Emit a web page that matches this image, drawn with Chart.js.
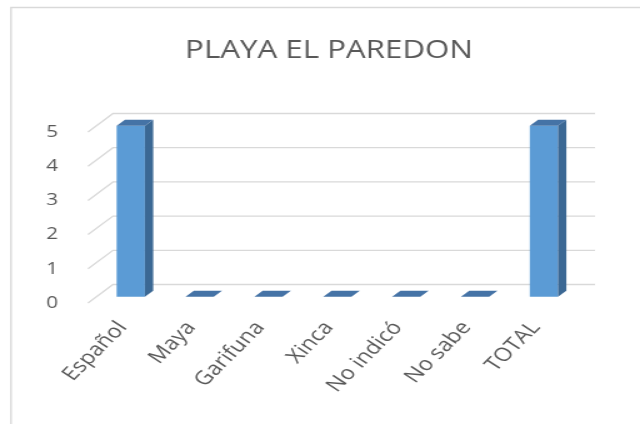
<!DOCTYPE html>
<html>
<head>
<meta charset="utf-8">
<script src="https://cdn.jsdelivr.net/npm/chart.js@4"></script>
<style>
  html, body { margin: 0; padding: 0; background: #fff; overflow: hidden; }
  /* the reference is stretched wider than its font, so the canvas is drawn narrower and widened here */
  #wrap { width: 512px; height: 424px; transform: scaleX(1.25); transform-origin: 0 0; }
</style>
</head>
<body>
<div id="wrap"><canvas id="chart" width="512" height="424"></canvas></div>
<script>
const categories = ['Español', 'Maya', 'Garifuna', 'Xinca', 'No indicó', 'No sabe', 'TOTAL'];
const values = [5, 0, 0, 0, 0, 0, 5];
const yTicks = [0, 1, 2, 3, 4, 5];

const textColor = '#595959';
const gridColor = '#d9d9d9';
const depthX = 20;      // depth of the floor, canvas px
const depthY = -18.5;

// grid on the back wall plus the slanted floor lines, and the outer frame
const wallPlugin = {
    id: 'wall',
    beforeDraw(chart) {
        const ctx = chart.ctx;
        ctx.save();
        ctx.strokeStyle = gridColor;
        ctx.lineWidth = 1.4;
        ctx.beginPath();
        ctx.moveTo(8.8, chart.height);
        ctx.lineTo(8.8, 7.5);
        ctx.lineTo(chart.width, 7.5);
        ctx.stroke();
        ctx.restore();
    },
    beforeDatasetsDraw(chart) {
        const ctx = chart.ctx;
        const area = chart.chartArea;
        const yScale = chart.scales.y;
        ctx.save();
        ctx.strokeStyle = gridColor;
        ctx.lineWidth = 1.3;
        yTicks.forEach(v => {
            const py = yScale.getPixelForValue(v);
            ctx.beginPath();
            ctx.moveTo(area.left, py);
            ctx.lineTo(area.left + depthX, py + depthY);
            ctx.lineTo(area.right + depthX, py + depthY);
            ctx.stroke();
        });
        ctx.restore();

        // bars stand a third of the way back on the floor
        ctx.save();
        ctx.translate(depthX / 3, depthY / 3);
    },
    afterDatasetsDraw(chart) {
        const ctx = chart.ctx;
        const dx = depthX / 3, dy = depthY / 3;
        const meta = chart.getDatasetMeta(0);
        meta.data.forEach(bar => {
            const { x, y, base, width } = bar.getProps(['x', 'y', 'base', 'width'], true);
            const l = x - width / 2, r = x + width / 2;
            // side face
            ctx.fillStyle = '#3b6894';
            ctx.beginPath();
            ctx.moveTo(r, y);
            ctx.lineTo(r + dx, y + dy);
            ctx.lineTo(r + dx, base + dy);
            ctx.lineTo(r, base);
            ctx.closePath();
            ctx.fill();
            // top face
            ctx.fillStyle = '#4573a6';
            ctx.beginPath();
            ctx.moveTo(l, y);
            ctx.lineTo(r, y);
            ctx.lineTo(r + dx, y + dy);
            ctx.lineTo(l + dx, y + dy);
            ctx.closePath();
            ctx.fill();
        });
        ctx.restore();
    }
};

new Chart(document.getElementById('chart'), {
    type: 'bar',
    data: {
        labels: categories,
        datasets: [{
            label: 'PLAYA EL PAREDON',
            data: values,
            backgroundColor: '#5b9bd5',
            borderWidth: 0,
            barPercentage: 0.41,
            categoryPercentage: 1,
            clip: false
        }]
    },
    options: {
        responsive: false,
        animation: false,
        devicePixelRatio: 1,
        layout: { padding: { left: 0, right: 56, top: 0, bottom: 0 } },
        plugins: {
            legend: { display: false },
            tooltip: { enabled: false },
            title: {
                display: true,
                text: 'PLAYA EL PAREDON',
                color: textColor,
                fullSize: false,
                font: { family: 'Open Sans', size: 25, weight: 'normal' },
                padding: { top: 36, bottom: 66 }
            }
        },
        scales: {
            x: {
                grid: { display: false },
                border: { display: false },
                ticks: {
                    color: textColor,
                    font: { family: 'Open Sans', size: 19 },
                    minRotation: 51,
                    maxRotation: 51,
                    padding: 6
                },
                afterFit(scale) { scale.height = 121; }
            },
            y: {
                min: 0,
                max: 5,
                grid: { display: false },
                border: { display: false },
                ticks: {
                    stepSize: 1,
                    color: textColor,
                    font: { family: 'Open Sans', size: 16.5 },
                    padding: 16
                },
                afterFit(scale) { scale.width = 70.4; }
            }
        }
    },
    plugins: [wallPlugin]
});
</script>
</body>
</html>
